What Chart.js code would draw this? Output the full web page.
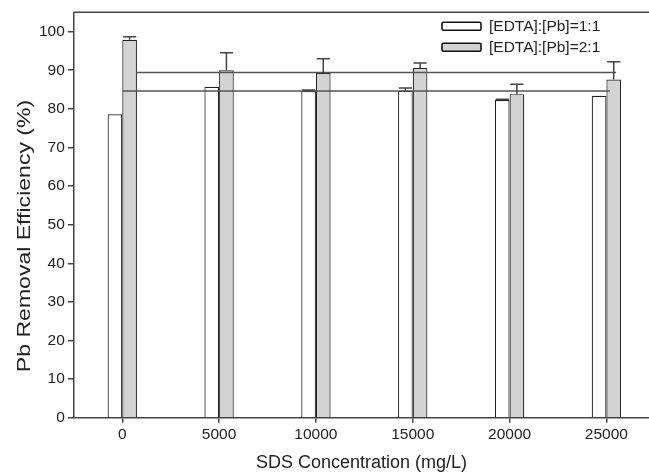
<!DOCTYPE html>
<html>
<head>
<meta charset="utf-8">
<script src="https://cdn.jsdelivr.net/npm/chart.js@4.4.1/dist/chart.umd.min.js"></script>
<style>
  html, body { margin: 0; padding: 0; background: #fff; }
  #chartContainer { width: 649px; height: 475px; }
</style>
</head>
<body>
<div id="chartContainer"><canvas id="myChart"></canvas></div>
<script>
// SDS concentration (mg/L)
const sdsConc = [0, 5000, 10000, 15000, 20000, 25000];
// Pb removal efficiency (%)
const ratio11 = [78.6, 85.7, 84.6, 84.7, 82.3, 83.4];
const err11 = [0, 0, 0.3, 0.7, 0.2, 0];
const ratio21 = [97.9, 90.0, 89.3, 90.6, 83.8, 87.6];
const err21 = [0.8, 4.5, 3.7, 1.3, 2.6, 4.6];
// horizontal reference lines
const line21X = [750, 25500];
const line21Y = [89.4, 89.4];
const line11X = [0, 25180];
const line11Y = [84.6, 84.6];
const xTicks = [0, 5000, 10000, 15000, 20000, 25000];
const yTicks = [0, 10, 20, 30, 40, 50, 60, 70, 80, 90, 100];
const yTitle = 'Pb Removal Efficiency (%)';

const axisColor = '#444';
const textColor = '#222';
const fontFam = '"Liberation Sans", Arial, sans-serif';

// error bars (upper half only) on top of the bars
const errorBars = {
    id: 'errorBars',
    afterDatasetsDraw(chart) {
        const ctx = chart.ctx;
        const y = chart.scales.y;
        chart.data.datasets.forEach((ds, di) => {
            if (!ds.errors) return;
            const meta = chart.getDatasetMeta(di);
            meta.data.forEach((bar, i) => {
                const e = ds.errors[i];
                if (!e) return;
                const top = y.getPixelForValue(ds.data[i].y + e);
                const half = bar.width * 0.45;
                ctx.save();
                ctx.strokeStyle = '#444';
                ctx.lineWidth = 1.5;
                ctx.beginPath();
                ctx.moveTo(bar.x, bar.y);
                ctx.lineTo(bar.x, top);
                ctx.moveTo(bar.x - half, top);
                ctx.lineTo(bar.x + half, top);
                ctx.stroke();
                ctx.restore();
            });
        });
    }
};

// top frame line, legend inside the plot, y title (stretched like the original)
const frameLegend = {
    id: 'frameLegend',
    afterDraw(chart) {
        const ctx = chart.ctx;
        const a = chart.chartArea;
        ctx.save();
        ctx.strokeStyle = axisColor;
        ctx.lineWidth = 1.5;
        ctx.beginPath();
        ctx.moveTo(a.left, a.top);
        ctx.lineTo(a.right, a.top);
        ctx.stroke();

        const items = chart.data.datasets.filter(d => d.type === 'bar');
        const bx = a.right - 207;
        let by = a.top + 10;
        ctx.font = '15.5px ' + fontFam;
        ctx.textBaseline = 'middle';
        items.forEach(d => {
            ctx.fillStyle = d.backgroundColor;
            ctx.strokeStyle = '#111';
            ctx.lineWidth = 1.6;
            ctx.beginPath();
            ctx.roundRect(bx, by, 39, 8, 1.5);
            ctx.fill();
            ctx.stroke();
            ctx.fillStyle = textColor;
            ctx.fillText(d.label, bx + 47, by + 4.5);
            by += 21;
        });

        ctx.translate(25, 236);
        ctx.rotate(-Math.PI / 2);
        ctx.scale(1.28, 1);
        ctx.font = '18px ' + fontFam;
        ctx.textAlign = 'center';
        ctx.fillStyle = textColor;
        ctx.fillText(yTitle, 0, 0);
        ctx.restore();
    }
};

const ctx = document.getElementById('myChart').getContext('2d');
const myChart = new Chart(ctx, {
    data: {
        datasets: [
            {
                type: 'line',
                label: 'mean 2:1',
                data: line21X.map((x, i) => ({ x: x, y: line21Y[i] })),
                borderColor: '#555',
                borderWidth: 1.5,
                pointRadius: 0,
                order: 0
            },
            {
                type: 'line',
                label: 'mean 1:1',
                data: line11X.map((x, i) => ({ x: x, y: line11Y[i] })),
                borderColor: '#555',
                borderWidth: 1.5,
                pointRadius: 0,
                order: 0
            },
            {
                type: 'bar',
                label: '[EDTA]:[Pb]=1:1',
                data: sdsConc.map((x, i) => ({ x: x, y: ratio11[i] })),
                errors: err11,
                backgroundColor: '#ffffff',
                borderColor: '#222',
                borderWidth: 1.2,
                categoryPercentage: 0.303,
                barPercentage: 1,
                order: 1
            },
            {
                type: 'bar',
                label: '[EDTA]:[Pb]=2:1',
                data: sdsConc.map((x, i) => ({ x: x, y: ratio21[i] })),
                errors: err21,
                backgroundColor: '#d3d3d3',
                borderColor: '#222',
                borderWidth: 1.2,
                categoryPercentage: 0.303,
                barPercentage: 1,
                order: 1
            }
        ]
    },
    options: {
        responsive: true,
        maintainAspectRatio: false,
        animation: false,
        layout: { padding: { top: 11, right: 0, bottom: 0, left: 36 } },
        plugins: {
            legend: { display: false },
            tooltip: { enabled: false }
        },
        scales: {
            x: {
                type: 'linear',
                min: -2500,
                max: 27200,
                offset: false,
                afterBuildTicks: (s) => { s.ticks = xTicks.map(v => ({ value: v })); },
                grid: { display: true, drawOnChartArea: false, drawTicks: true, tickLength: 5, color: axisColor, lineWidth: 1.5, offset: false },
                border: { display: true, color: axisColor, width: 1.5 },
                ticks: {
                    color: textColor,
                    padding: 3,
                    maxRotation: 0,
                    font: { family: fontFam, size: 15.5 },
                    callback: (v) => String(v)
                },
                title: {
                    display: true,
                    text: 'SDS Concentration (mg/L)',
                    color: textColor,
                    padding: { top: 5, bottom: 1 },
                    font: { family: fontFam, size: 18 }
                }
            },
            y: {
                min: 0,
                max: 105,
                afterBuildTicks: (s) => { s.ticks = yTicks.map(v => ({ value: v })); },
                grid: { display: true, drawOnChartArea: false, drawTicks: true, tickLength: 6, color: axisColor, lineWidth: 1.5 },
                border: { display: true, color: axisColor, width: 1.5 },
                ticks: {
                    color: textColor,
                    padding: 3,
                    font: { family: fontFam, size: 15.5 }
                },
                title: { display: false }
            }
        }
    },
    plugins: [errorBars, frameLegend]
});
</script>
</body>
</html>
